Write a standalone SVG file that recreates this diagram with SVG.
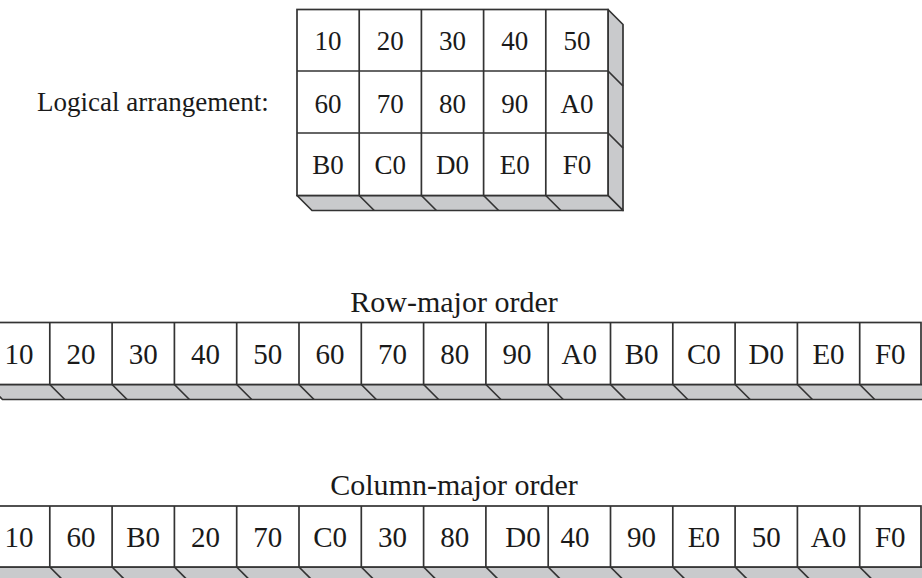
<svg xmlns="http://www.w3.org/2000/svg" width="922" height="578" viewBox="0 0 922 578">
<style>
.face{fill:#c9cacc;stroke:#333;stroke-width:1.7;stroke-linejoin:round}
.cell{fill:#fff;stroke:#333;stroke-width:1.7}
.ln{stroke:#333;stroke-width:1.7;fill:none}
.t{font-family:"Liberation Serif","Times New Roman",serif;fill:#1a1a1a;text-anchor:middle}
.g{font-size:27px}
.s{font-size:29px}
.lab{font-family:"Liberation Serif","Times New Roman",serif;fill:#1a1a1a}
</style>
<rect width="922" height="578" fill="#fff"/>

<!-- Logical arrangement grid -->
<g id="logical-label"><text class="lab" x="37" y="111" font-size="27">Logical arrangement:</text></g>
<g id="logical-grid">
<polygon class="face" points="608,9.5 623,24.5 623,210.5 608,195.5"/>
<polygon class="face" points="297,195.5 312,210.5 623,210.5 608,195.5"/>
<g class="ln">
<line x1="608" y1="71" x2="623" y2="86"/>
<line x1="608" y1="133" x2="623" y2="148"/>
<line x1="359.2" y1="195.5" x2="374.2" y2="210.5"/>
<line x1="421.4" y1="195.5" x2="436.4" y2="210.5"/>
<line x1="483.6" y1="195.5" x2="498.6" y2="210.5"/>
<line x1="545.8" y1="195.5" x2="560.8" y2="210.5"/>
</g>
<rect class="cell" x="297" y="9.5" width="311" height="186"/>
<g class="ln">
<line x1="359.2" y1="9.5" x2="359.2" y2="195.5"/>
<line x1="421.4" y1="9.5" x2="421.4" y2="195.5"/>
<line x1="483.6" y1="9.5" x2="483.6" y2="195.5"/>
<line x1="545.8" y1="9.5" x2="545.8" y2="195.5"/>
<line x1="297" y1="71" x2="608" y2="71"/>
<line x1="297" y1="133" x2="608" y2="133"/>
</g>
<g class="t g">
<text x="328.1" y="50">10</text><text x="390.3" y="50">20</text><text x="452.5" y="50">30</text><text x="514.7" y="50">40</text><text x="576.9" y="50">50</text>
<text x="328.1" y="112.5">60</text><text x="390.3" y="112.5">70</text><text x="452.5" y="112.5">80</text><text x="514.7" y="112.5">90</text><text x="576.9" y="112.5">A0</text>
<text x="328.1" y="174">B0</text><text x="390.3" y="174">C0</text><text x="452.5" y="174">D0</text><text x="514.7" y="174">E0</text><text x="576.9" y="174">F0</text>
</g>
</g>

<!-- Row-major strip -->
<g id="row-major-title"><text class="t" x="454" y="312" font-size="30">Row-major order</text></g>
<g id="row-major-strip">
<polygon class="face" points="-12.5,384.5 2.5,399.5 937,399.5 922,384.5"/>
<g class="ln">
<line x1="49.8" y1="384.5" x2="64.8" y2="399.5"/><line x1="112.1" y1="384.5" x2="127.1" y2="399.5"/><line x1="174.4" y1="384.5" x2="189.4" y2="399.5"/><line x1="236.7" y1="384.5" x2="251.7" y2="399.5"/><line x1="299" y1="384.5" x2="314" y2="399.5"/><line x1="361.3" y1="384.5" x2="376.3" y2="399.5"/><line x1="423.6" y1="384.5" x2="438.6" y2="399.5"/><line x1="485.9" y1="384.5" x2="500.9" y2="399.5"/><line x1="548.2" y1="384.5" x2="563.2" y2="399.5"/><line x1="610.5" y1="384.5" x2="625.5" y2="399.5"/><line x1="672.8" y1="384.5" x2="687.8" y2="399.5"/><line x1="735.1" y1="384.5" x2="750.1" y2="399.5"/><line x1="797.4" y1="384.5" x2="812.4" y2="399.5"/><line x1="859.7" y1="384.5" x2="874.7" y2="399.5"/>
</g>
<rect class="cell" x="-12.5" y="322.5" width="933.5" height="62"/>
<g class="ln">
<line x1="49.8" y1="322.5" x2="49.8" y2="384.5"/><line x1="112.1" y1="322.5" x2="112.1" y2="384.5"/><line x1="174.4" y1="322.5" x2="174.4" y2="384.5"/><line x1="236.7" y1="322.5" x2="236.7" y2="384.5"/><line x1="299" y1="322.5" x2="299" y2="384.5"/><line x1="361.3" y1="322.5" x2="361.3" y2="384.5"/><line x1="423.6" y1="322.5" x2="423.6" y2="384.5"/><line x1="485.9" y1="322.5" x2="485.9" y2="384.5"/><line x1="548.2" y1="322.5" x2="548.2" y2="384.5"/><line x1="610.5" y1="322.5" x2="610.5" y2="384.5"/><line x1="672.8" y1="322.5" x2="672.8" y2="384.5"/><line x1="735.1" y1="322.5" x2="735.1" y2="384.5"/><line x1="797.4" y1="322.5" x2="797.4" y2="384.5"/><line x1="859.7" y1="322.5" x2="859.7" y2="384.5"/>
</g>
<g class="t s">
<text x="19" y="363.5">10</text><text x="81" y="363.5">20</text><text x="143.2" y="363.5">30</text><text x="205.5" y="363.5">40</text><text x="267.8" y="363.5">50</text><text x="330.1" y="363.5">60</text><text x="392.4" y="363.5">70</text><text x="454.7" y="363.5">80</text><text x="517" y="363.5">90</text><text x="579.3" y="363.5">A0</text><text x="641.6" y="363.5">B0</text><text x="703.9" y="363.5">C0</text><text x="766.2" y="363.5">D0</text><text x="828.5" y="363.5">E0</text><text x="890.3" y="363.5">F0</text>
</g>
</g>

<!-- Column-major strip -->
<g id="column-major-title"><text class="t" x="454" y="495" font-size="30">Column-major order</text></g>
<g id="column-major-strip">
<polygon class="face" points="-12.5,567 2.5,582 937,582 922,567"/>
<g class="ln">
<line x1="49.8" y1="567" x2="64.8" y2="582"/><line x1="112.1" y1="567" x2="127.1" y2="582"/><line x1="174.4" y1="567" x2="189.4" y2="582"/><line x1="236.7" y1="567" x2="251.7" y2="582"/><line x1="299" y1="567" x2="314" y2="582"/><line x1="361.3" y1="567" x2="376.3" y2="582"/><line x1="423.6" y1="567" x2="438.6" y2="582"/><line x1="485.9" y1="567" x2="500.9" y2="582"/><line x1="548.2" y1="567" x2="563.2" y2="582"/><line x1="610.5" y1="567" x2="625.5" y2="582"/><line x1="672.8" y1="567" x2="687.8" y2="582"/><line x1="735.1" y1="567" x2="750.1" y2="582"/><line x1="797.4" y1="567" x2="812.4" y2="582"/><line x1="859.7" y1="567" x2="874.7" y2="582"/>
</g>
<rect class="cell" x="-12.5" y="506" width="933.5" height="61"/>
<g class="ln">
<line x1="49.8" y1="506" x2="49.8" y2="567"/><line x1="112.1" y1="506" x2="112.1" y2="567"/><line x1="174.4" y1="506" x2="174.4" y2="567"/><line x1="236.7" y1="506" x2="236.7" y2="567"/><line x1="299" y1="506" x2="299" y2="567"/><line x1="361.3" y1="506" x2="361.3" y2="567"/><line x1="423.6" y1="506" x2="423.6" y2="567"/><line x1="485.9" y1="506" x2="485.9" y2="567"/><line x1="548.2" y1="506" x2="548.2" y2="567"/><line x1="610.5" y1="506" x2="610.5" y2="567"/><line x1="672.8" y1="506" x2="672.8" y2="567"/><line x1="735.1" y1="506" x2="735.1" y2="567"/><line x1="797.4" y1="506" x2="797.4" y2="567"/><line x1="859.7" y1="506" x2="859.7" y2="567"/>
</g>
<g class="t s">
<text x="19" y="546.5">10</text><text x="81" y="546.5">60</text><text x="143.2" y="546.5">B0</text><text x="205.5" y="546.5">20</text><text x="267.8" y="546.5">70</text><text x="330.1" y="546.5">C0</text><text x="392.4" y="546.5">30</text><text x="454.7" y="546.5">80</text><text x="523" y="546.5">D0</text><text x="575" y="546.5">40</text><text x="641.6" y="546.5">90</text><text x="703.9" y="546.5">E0</text><text x="766.2" y="546.5">50</text><text x="828.5" y="546.5">A0</text><text x="890.3" y="546.5">F0</text>
</g>
</g>
</svg>
